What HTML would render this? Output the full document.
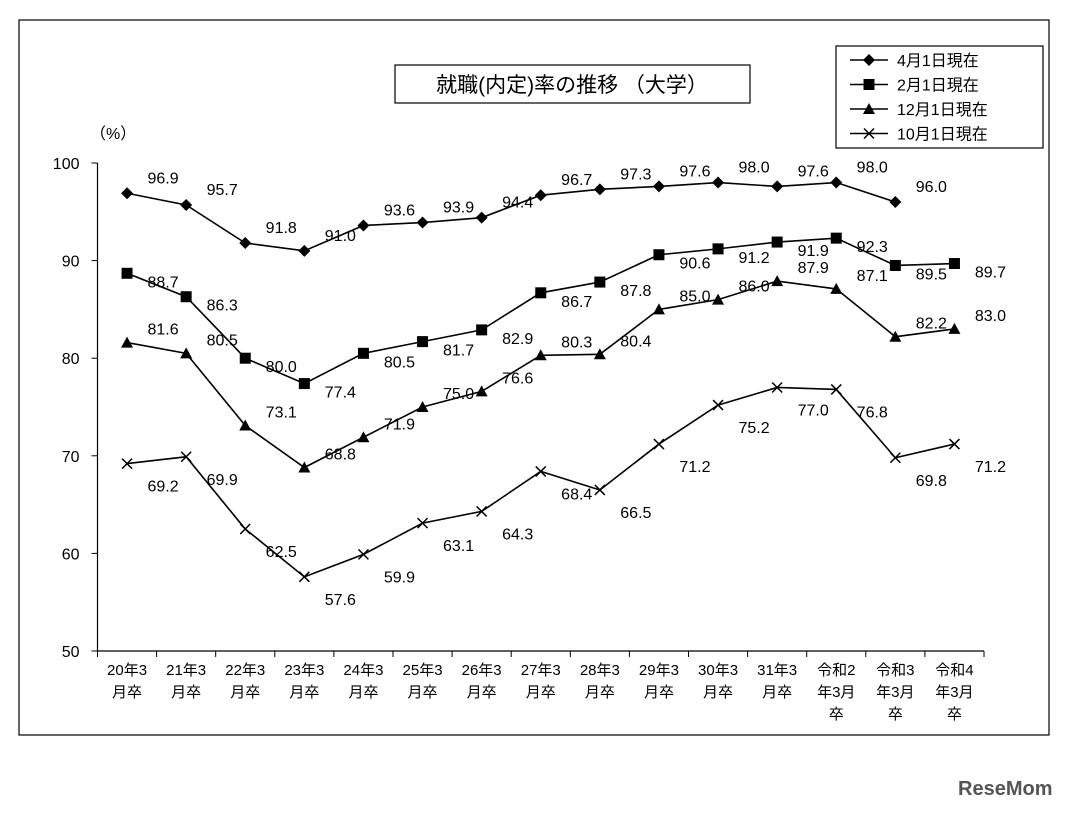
<!DOCTYPE html>
<html><head><meta charset="utf-8"><style>
body{margin:0;background:#fff;width:1069px;height:810px;overflow:hidden;font-family:"Liberation Sans","Noto Sans CJK JP",sans-serif;}
svg text{font-family:"Liberation Sans","Noto Sans CJK JP",sans-serif;}
</style></head><body>
<svg id="chart" width="1069" height="810" xmlns="http://www.w3.org/2000/svg">
<rect x="19" y="20" width="1030" height="715" fill="#fff" stroke="#000" stroke-width="1.2"/>
<g>
<rect x="395" y="65" width="355" height="38" fill="#fff" stroke="#000" stroke-width="1.2"/>
<text x="572" y="92" font-size="21" text-anchor="middle">就職(内定)率の推移 （大学）</text>
</g>
<text x="90" y="139" font-size="16">（%）</text>
<g id="plot"></g>
<g>
<rect x="836" y="46" width="207" height="102" fill="#fff" stroke="#000" stroke-width="1.2"/>
<g id="legend"></g>
</g>
<text x="958" y="795" font-size="20" font-weight="bold" fill="#555">ReseMom</text>
</svg>
<script>
const categories=[["20年3","月卒"],["21年3","月卒"],["22年3","月卒"],["23年3","月卒"],["24年3","月卒"],["25年3","月卒"],["26年3","月卒"],["27年3","月卒"],["28年3","月卒"],["29年3","月卒"],["30年3","月卒"],["31年3","月卒"],["令和2","年3月","卒"],["令和3","年3月","卒"],["令和4","年3月","卒"]];
const seriesNames=["4月1日現在","2月1日現在","12月1日現在","10月1日現在"];
const apr=[96.9,95.7,91.8,91.0,93.6,93.9,94.4,96.7,97.3,97.6,98.0,97.6,98.0,96.0];
const feb=[88.7,86.3,80.0,77.4,80.5,81.7,82.9,86.7,87.8,90.6,91.2,91.9,92.3,89.5,89.7];
const dec=[81.6,80.5,73.1,68.8,71.9,75.0,76.6,80.3,80.4,85.0,86.0,87.9,87.1,82.2,83.0];
const oct=[69.2,69.9,62.5,57.6,59.9,63.1,64.3,68.4,66.5,71.2,75.2,77.0,76.8,69.8,71.2];
const yTicks=[50,60,70,80,90,100];

const NS="http://www.w3.org/2000/svg";
const plot=document.getElementById('plot');
const L=97.5,R=984,T=163,B=651;
const step=(R-L)/categories.length;
const xs=i=>L+step*(i+0.5);
const ys=v=>B-(v-50)/50*(B-T);
function mk(tag,attrs,parent){const e=document.createElementNS(NS,tag);for(const k in attrs)e.setAttribute(k,attrs[k]);(parent||plot).appendChild(e);return e;}

let ax=mk('line',{x1:L,y1:T,x2:L,y2:B,stroke:'#000','stroke-width':1.2});


let xa=mk('line',{x1:L,y1:B,x2:R,y2:B,stroke:'#000','stroke-width':1.2});


yTicks.forEach(v=>{
 mk('line',{x1:L-6,y1:ys(v),x2:L,y2:ys(v),stroke:'#000'});
 const t=mk('text',{x:L-18,y:ys(v)+6,'font-size':16,'text-anchor':'end'});
 t.textContent=v;
 
 
});
categories.forEach((c,i)=>{
 mk('line',{x1:L+step*i,y1:B,x2:L+step*i,y2:B+6,stroke:'#000'});
 c.forEach((s,j)=>{
  const t=mk('text',{x:xs(i),y:B+24+j*22,'font-size':15,'text-anchor':'middle'});
  t.textContent=s;
  
  
 });
});
mk('line',{x1:R,y1:B,x2:R,y2:B+6,stroke:'#000'});

function marker(type,x,y,g){
 if(type===0)mk('polygon',{points:`${x},${y-6} ${x+6},${y} ${x},${y+6} ${x-6},${y}`,fill:'#000'},g);
 else if(type===1)mk('rect',{x:x-5.5,y:y-5.5,width:11,height:11,fill:'#000'},g);
 else if(type===2)mk('polygon',{points:`${x},${y-6} ${x+6},${y+5} ${x-6},${y+5}`,fill:'#000'},g);
 else{mk('line',{x1:x-5,y1:y-5,x2:x+5,y2:y+5,stroke:'#000','stroke-width':1.5},g);mk('line',{x1:x-5,y1:y+5,x2:x+5,y2:y-5,stroke:'#000','stroke-width':1.5},g);}
}
const allSeries=[apr,feb,dec,oct];
const labelDy=[-16,8,-14,22];
const names=['series-apr','series-feb','series-dec','series-oct'];
allSeries.forEach((d,s)=>{
 const g=mk('g',{});
 
 
 mk('polyline',{points:d.map((v,i)=>xs(i)+','+ys(v)).join(' '),fill:'none',stroke:'#000','stroke-width':1.6},g);
 d.forEach((v,i)=>{
  marker(s,xs(i),ys(v),g);
  const t=mk('text',{x:xs(i)+36,y:ys(v)+labelDy[s]+6,'font-size':16,'text-anchor':'middle'},g);
  t.textContent=v.toFixed(1);
 });
});
const lg=document.getElementById('legend');
seriesNames.forEach((n,s)=>{
 const y=60+s*24.5;
 const e=mk('g',{},lg);
 
 
 mk('line',{x1:850,y1:y,x2:888,y2:y,stroke:'#000','stroke-width':1.6},e);
 marker(s,869,y,e);
 const t=mk('text',{x:897,y:y+6,'font-size':16},e);
 t.textContent=n;
});
</script>
</body></html>
